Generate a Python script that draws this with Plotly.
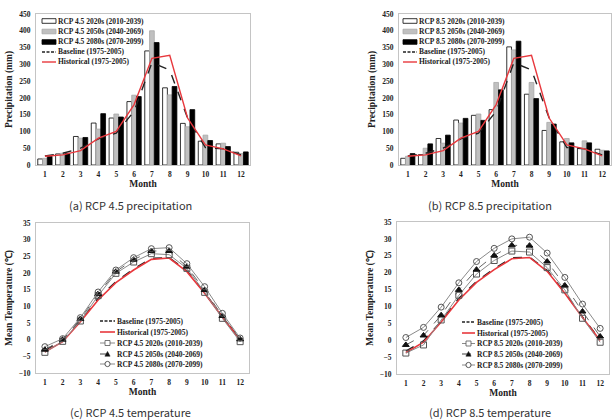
import plotly.graph_objects as go

# ---------------- data ----------------
months = list(range(1, 13))
month_labels = [str(m) for m in months]

baseline_pr = [27, 35, 50, 78, 95, 160, 305, 283, 140, 52, 48, 30]
historical_pr = [26, 30, 43, 80, 100, 180, 318, 327, 140, 60, 48, 27]

rcp45_2020s_pr = [18, 33, 85, 125, 140, 189, 340, 230, 124, 71, 63, 38]
rcp45_2050s_pr = [20, 35, 80, 107, 152, 208, 400, 209, 114, 89, 65, 34]
rcp45_2080s_pr = [26, 35, 82, 153, 143, 204, 365, 234, 165, 73, 55, 39]

rcp85_2020s_pr = [20, 31, 79, 134, 148, 165, 352, 211, 103, 69, 50, 47]
rcp85_2050s_pr = [26, 50, 65, 125, 152, 246, 343, 246, 127, 79, 72, 44]
rcp85_2080s_pr = [34, 63, 89, 139, 133, 224, 369, 198, 122, 66, 66, 42]

baseline_t = [-3.2, -0.2, 5.6, 12.4, 17.4, 21.2, 24.4, 24.6, 20.7, 14.1, 6.9, 0.1]
historical_t = [-3.7, -0.6, 5.4, 11.9, 17.1, 20.9, 24.1, 24.5, 20.4, 13.9, 6.7, -0.1]

rcp45_2020s_t = [-3.8, -0.5, 5.6, 13.2, 19.9, 23.3, 25.8, 25.5, 21.4, 14.2, 6.4, -0.6]
rcp45_2050s_t = [-3.0, 0.0, 6.2, 13.7, 20.4, 24.0, 26.6, 26.6, 21.9, 14.9, 7.1, 0.1]
rcp45_2080s_t = [-2.1, 0.3, 6.6, 14.3, 20.9, 24.6, 27.3, 27.6, 22.8, 15.9, 7.9, 0.5]

rcp85_2020s_t = [-3.8, -1.4, 6.0, 13.3, 19.6, 23.6, 26.4, 26.1, 21.5, 14.9, 6.5, -0.6]
rcp85_2050s_t = [-1.4, 1.4, 7.4, 14.9, 20.9, 25.1, 28.1, 28.0, 23.3, 16.2, 8.5, 1.1]
rcp85_2080s_t = [0.8, 3.8, 9.8, 17.0, 23.3, 27.2, 30.0, 30.5, 25.8, 18.6, 10.7, 3.5]

names_pr45 = ["RCP 4.5 2020s (2010-2039)", "RCP 4.5 2050s (2040-2069)", "RCP 4.5 2080s (2070-2099)",
              "Baseline (1975-2005)", "Historical (1975-2005)"]
names_pr85 = ["RCP 8.5 2020s (2010-2039)", "RCP 8.5 2050s (2040-2069)", "RCP 8.5 2080s (2070-2099)",
              "Baseline (1975-2005)", "Historical (1975-2005)"]
names_t45 = ["Baseline (1975-2005)", "Historical (1975-2005)", "RCP 4.5 2020s (2010-2039)",
             "RCP 4.5 2050s (2040-2069)", "RCP 4.5 2080s (2070-2099)"]
names_t85 = ["Baseline (1975-2005)", "Historical (1975-2005)", "RCP 8.5 2020s (2010-2039)",
             "RCP 8.5 2050s (2040-2069)", "RCP 8.5 2080s (2070-2099)"]
captions = ["(a) RCP 4.5 precipitation", "(b) RCP 8.5 precipitation",
            "(c) RCP 4.5 temperature", "(d) RCP 8.5 temperature"]

# ---------------- styling ----------------
W, H = 612, 420
MB = 30  # bottom margin so the lower x-axis titles have room
PH = H - MB
SERIF = "Liberation Serif"
RED = "#e8383d"
GRAYBAR = "#c0c0c0"
GRAYLINE = "#8a8a8a"
FRAME = "#c4c4c4"


def px(x):
    return x / W


def py(y):
    return (PH - y) / PH


fig = go.Figure()


def add_bars(xa, ya, vals, names):
    styles = [("white", "#000000"), (GRAYBAR, "#a8a8a8"), ("#000000", "#000000")]
    for v, n, (fc, lc) in zip(vals, names[:3], styles):
        fig.add_trace(go.Bar(x=months, y=v, name=n, xaxis=xa, yaxis=ya,
                             marker=dict(color=fc, line=dict(color=lc, width=0.8)),
                             showlegend=False))
    fig.add_trace(go.Scatter(x=months, y=baseline_pr, name=names[3], xaxis=xa, yaxis=ya,
                             mode="lines", line=dict(color="#222222", width=1.4, dash="dash"),
                             showlegend=False))
    fig.add_trace(go.Scatter(x=months, y=historical_pr, name=names[4], xaxis=xa, yaxis=ya,
                             mode="lines", line=dict(color=RED, width=1.4),
                             showlegend=False))


def add_temps(xa, ya, vals, names):
    fig.add_trace(go.Scatter(x=months, y=baseline_t, name=names[0], xaxis=xa, yaxis=ya,
                             mode="lines", line=dict(color="#222222", width=1.4, dash="dash"),
                             showlegend=False))
    fig.add_trace(go.Scatter(x=months, y=historical_t, name=names[1], xaxis=xa, yaxis=ya,
                             mode="lines", line=dict(color=RED, width=1.6),
                             showlegend=False))
    specs = [("square-open", GRAYLINE, "solid", "#555555"),
             ("triangle-up", "#666666", "dash", "#111111"),
             ("circle-open", GRAYLINE, "solid", "#555555")]
    for v, n, (sym, lc, dash, mc) in zip(vals, names[2:], specs):
        fig.add_trace(go.Scatter(x=months, y=v, name=n, xaxis=xa, yaxis=ya,
                                 mode="lines+markers",
                                 line=dict(color=lc, width=1, dash=dash),
                                 marker=dict(symbol=sym, size=6, color=mc,
                                             line=dict(color=mc, width=1)),
                                 showlegend=False))


add_bars("x", "y", [rcp45_2020s_pr, rcp45_2050s_pr, rcp45_2080s_pr], names_pr45)
add_bars("x2", "y2", [rcp85_2020s_pr, rcp85_2050s_pr, rcp85_2080s_pr], names_pr85)
add_temps("x3", "y3", [rcp45_2020s_t, rcp45_2050s_t, rcp45_2080s_t], names_t45)
add_temps("x4", "y4", [rcp85_2020s_t, rcp85_2050s_t, rcp85_2080s_t], names_t85)

tickfont = dict(family=SERIF, size=7.5, color="#222222", weight="bold")
titlefont = dict(family=SERIF, size=9.5, color="#222222", weight="bold")


def xaxis(domain, anchor):
    return dict(domain=domain, anchor=anchor, range=[0.5, 12.5], tickvals=months,
                ticktext=month_labels, tickfont=tickfont, showgrid=False, zeroline=False,
                showline=True, mirror=True, linecolor=FRAME, linewidth=1,
                ticks="outside", ticklen=2, tickcolor="rgba(0,0,0,0)",
                title=dict(text="Month", font=titlefont, standoff=2), automargin=True)


def yaxis(domain, anchor, rng, dtick, title):
    return dict(domain=domain, anchor=anchor, range=rng, dtick=dtick, tick0=rng[0],
                tickfont=tickfont, showgrid=False, zeroline=False,
                showline=True, mirror=True, linecolor=FRAME, linewidth=1,
                ticks="outside", ticklen=3, tickcolor="rgba(0,0,0,0)",
                title=dict(text=title, font=titlefont, standoff=4), automargin=False)


fig.update_layout(
    width=W, height=H, margin=dict(l=0, r=0, t=0, b=MB),
    paper_bgcolor="white", plot_bgcolor="white",
    barmode="group", bargap=0.2, bargroupgap=0.0,
    showlegend=False,
    xaxis=xaxis([px(36), px(250)], "y"),
    yaxis=yaxis([py(165), py(14)], "x", [0, 450], 50, "Precipitation (mm)"),
    xaxis2=xaxis([px(399), px(611)], "y2"),
    yaxis2=yaxis([py(165), py(14)], "x2", [0, 450], 50, "Precipitation (mm)"),
    xaxis3=xaxis([px(36), px(249)], "y3"),
    yaxis3=yaxis([py(373), py(223)], "x3", [-10, 35], 5, "Mean Temperature (℃)"),
    xaxis4=xaxis([px(397), px(609)], "y4"),
    yaxis4=yaxis([py(374), py(222)], "x4", [-10, 35], 5, "Mean Temperature (℃)"),
)

shapes = []
annotations = []
legfont = dict(family=SERIF, size=7.5, color="#222222", weight="bold")


def leg_text(x, y, text):
    annotations.append(dict(x=px(x), y=py(y), xref="paper", yref="paper", text=text,
                            showarrow=False, xanchor="left", yanchor="middle", font=legfont))


def rect(x0, y0, x1, y1, fill, line):
    shapes.append(dict(type="rect", xref="paper", yref="paper", x0=px(x0), x1=px(x1),
                       y0=py(y1), y1=py(y0), fillcolor=fill, line=dict(color=line, width=0.8)))


def hline(x0, x1, y, color, dash="solid", width=1.4):
    shapes.append(dict(type="line", xref="paper", yref="paper", x0=px(x0), x1=px(x1),
                       y0=py(y), y1=py(y), line=dict(color=color, width=width, dash=dash)))


LEGDASH = "3px,1.5px"


def bar_legend(x0, x1, tx, rows, names):
    styles = [("white", "#000000"), (GRAYBAR, "#a8a8a8"), ("#000000", "#000000")]
    for i, (fc, lc) in enumerate(styles):
        rect(x0, rows[i] - 2.3, x1, rows[i] + 2.3, fc, lc)
        leg_text(tx, rows[i], names[i])
    hline(x0, x1, rows[3], "#222222", LEGDASH, 1.4)
    leg_text(tx, rows[3], names[3])
    hline(x0, x1, rows[4], RED, "solid", 1.4)
    leg_text(tx, rows[4], names[4])


def temp_legend(x0, x1, tx, rows, names):
    hline(x0, x1, rows[0], "#222222", LEGDASH, 1.4)
    leg_text(tx, rows[0], names[0])
    hline(x0, x1, rows[1], RED, "solid", 1.6)
    leg_text(tx, rows[1], names[1])
    cx = (x0 + x1) / 2
    # 2020s square
    hline(x0, x1, rows[2], GRAYLINE, "solid", 1)
    rect(cx - 2.5, rows[2] - 2.5, cx + 2.5, rows[2] + 2.5, "white", "#555555")
    leg_text(tx, rows[2], names[2])
    # 2050s triangle
    hline(x0, x1, rows[3], "#444444", "dash", 1)
    shapes.append(dict(type="path", xref="paper", yref="paper",
                       path="M {} {} L {} {} L {} {} Z".format(
                           px(cx - 2.6), py(rows[3] + 2.2), px(cx + 2.6), py(rows[3] + 2.2),
                           px(cx), py(rows[3] - 2.6)),
                       fillcolor="#111111", line=dict(color="#111111", width=0.5)))
    leg_text(tx, rows[3], names[3])
    # 2080s circle
    hline(x0, x1, rows[4], GRAYLINE, "solid", 1)
    shapes.append(dict(type="circle", xref="paper", yref="paper",
                       x0=px(cx - 2.6), x1=px(cx + 2.6), y0=py(rows[4] + 2.6), y1=py(rows[4] - 2.6),
                       fillcolor="white", line=dict(color="#555555", width=1)))
    leg_text(tx, rows[4], names[4])


bar_legend(42, 56, 56, [21, 31.5, 42, 52, 62], names_pr45)
bar_legend(403, 417, 417, [21, 31.5, 42, 52, 62], names_pr85)
temp_legend(100, 115, 115, [321, 332, 343, 354, 364], names_t45)
temp_legend(462, 475, 475, [322, 333, 343.5, 354, 365], names_t85)

capfont = dict(family="Noto Sans CJK KR", size=11, color="#333333")
for (cx, cy), text in zip([(130, 205), (490, 205), (130, 412), (490, 412)], captions):
    annotations.append(dict(x=px(cx), y=py(cy), xref="paper", yref="paper", text=text,
                            showarrow=False, xanchor="center", yanchor="middle", font=capfont))

fig.update_layout(shapes=shapes, annotations=annotations)

fig.write_html("out.html")
